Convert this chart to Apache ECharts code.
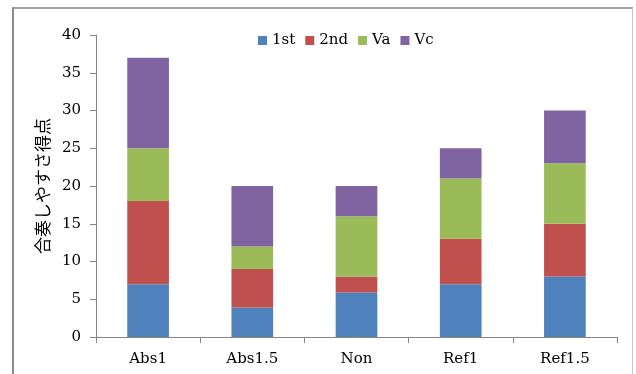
<!DOCTYPE html>
<html>
<head>
<meta charset="utf-8">
<script src="https://cdn.jsdelivr.net/npm/echarts@6/dist/echarts.min.js"></script>
<style>
  html, body { margin: 0; padding: 0; background: #fff; }
  #main { width: 636px; height: 374px; }
  .frame {
    position: absolute; left: 12px; top: 7px; width: 618px; height: 400px;
    border-left: 2px solid #8a8a8a; border-top: 2px solid #a0a0a0; border-right: 1px solid #c8c8c8;
    pointer-events: none;
  }
</style>
</head>
<body>
<div id="main"></div>
<div class="frame"></div>
<script>
// 各条件の得点（積み上げ）
var categories = ["Abs1", "Abs1.5", "Non", "Ref1", "Ref1.5"];
var first = [7, 3.9, 5.9, 7, 8];
var second = [11, 5.1, 2.1, 6, 7];
var va = [7, 3, 8, 8, 8];
var vc = [12, 8, 4, 4, 7];
var names = ["1st", "2nd", "Va", "Vc"];
var colors = ["#4F81BD", "#C0504D", "#9BBB59", "#8064A2"];

var myChart = echarts.init(document.getElementById("main"));
var serif = "'DejaVu Serif', 'Liberation Serif', serif";
var option = {
  animation: false,
  color: colors,
  legend: {
    data: names,
    top: 28,
    left: 253,
    itemWidth: 9,
    itemHeight: 9,
    itemGap: 10,
    icon: "rect",
    textStyle: { fontFamily: serif, fontSize: 15, color: "#000" }
  },
  grid: { left: 96, right: 19, top: 35, bottom: 37 },
  xAxis: {
    type: "category",
    data: categories,
    axisLine: { lineStyle: { color: "#868686" } },
    axisTick: { show: true, length: 6, lineStyle: { color: "#868686" } },
    axisLabel: { fontFamily: serif, fontSize: 15, color: "#000", margin: 15 }
  },
  yAxis: {
    type: "value",
    min: 0,
    max: 40,
    interval: 5,
    name: "合奏しやすさ得点",
    nameLocation: "middle",
    nameGap: 42,
    nameTextStyle: { fontFamily: "'Noto Sans CJK JP', sans-serif", fontSize: 17, color: "#000" },
    splitLine: { show: false },
    axisLine: { show: true, lineStyle: { color: "#868686" } },
    axisTick: { show: true, length: 6, lineStyle: { color: "#868686" } },
    axisLabel: { fontFamily: serif, fontSize: 15, color: "#000", margin: 15 }
  },
  series: [
    { name: names[0], type: "bar", stack: "total", data: first, barWidth: "40%" },
    { name: names[1], type: "bar", stack: "total", data: second, barWidth: "40%" },
    { name: names[2], type: "bar", stack: "total", data: va, barWidth: "40%" },
    { name: names[3], type: "bar", stack: "total", data: vc, barWidth: "40%" }
  ]
};
myChart.setOption(option);
</script>
</body>
</html>
